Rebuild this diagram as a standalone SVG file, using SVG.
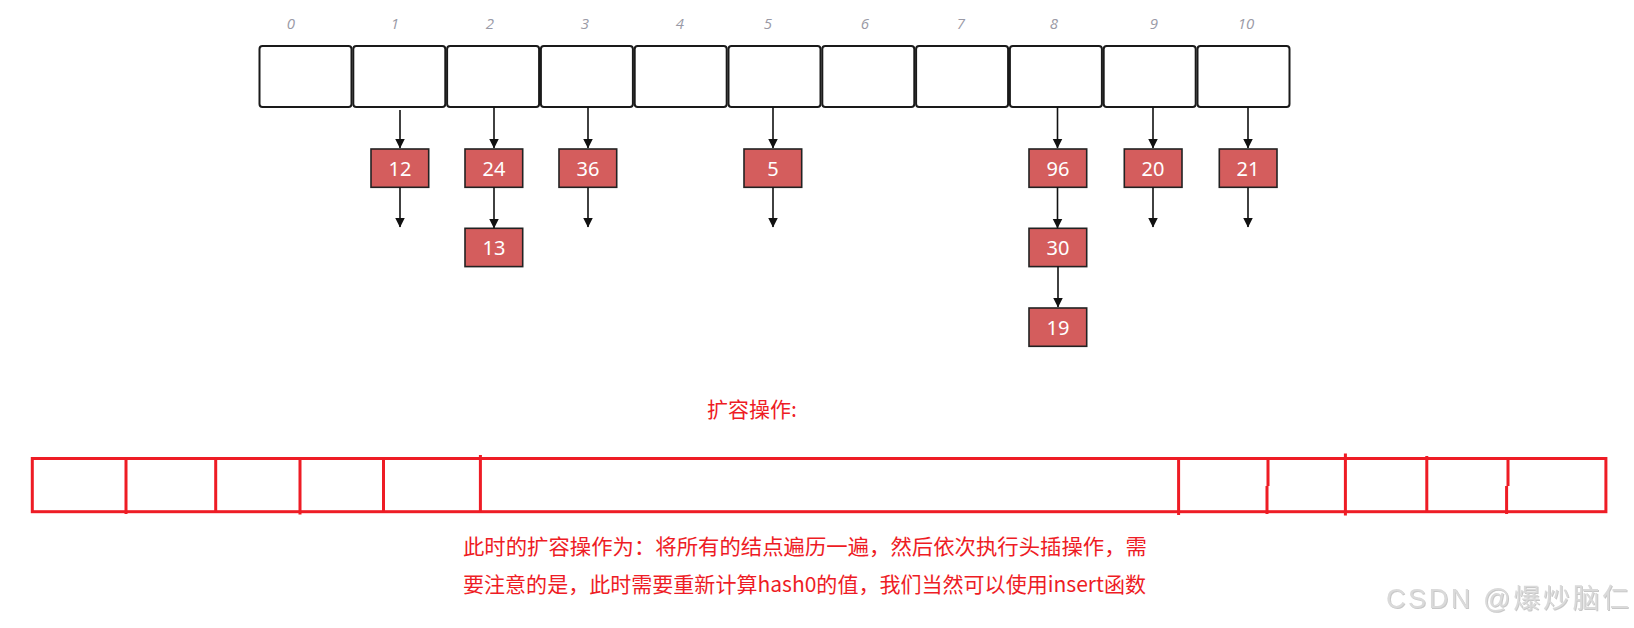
<svg xmlns="http://www.w3.org/2000/svg" width="1634" height="628" viewBox="0 0 1634 628">
<style>
.slot{fill:#fff;stroke:#1a1a1a;stroke-width:2}
.idx{font-family:"Open Sans","Noto Sans",sans-serif;font-style:italic;font-size:15px;fill:#9a9aa6;text-anchor:middle}
.node rect{fill:#d45d5d;stroke:#222;stroke-width:1.6}
.node text{font-family:"Noto Sans","Open Sans",sans-serif;font-size:20px;fill:#fff;text-anchor:middle}
.conn line{stroke:#111;stroke-width:1.6;marker-end:url(#ah)}
.red{stroke:#ee1c25;stroke-width:3;fill:none}
.rt{font-family:"Noto Sans CJK SC","Noto Sans",sans-serif;fill:#ee1c25}
</style>
<defs>
<marker id="ah" markerUnits="userSpaceOnUse" markerWidth="11" markerHeight="11" refX="9.5" refY="5" orient="auto">
<path d="M0,0 L10,5 L0,10 Z" fill="#111"/>
</marker>
<filter id="emb" x="-5%" y="-20%" width="110%" height="140%">
<feDropShadow dx="1" dy="1" stdDeviation="0.6" flood-color="#b0b0b0" flood-opacity="0.7"/>
</filter>
</defs>
<g id="array">
<g id="slot0"><rect class="slot" x="259.5" y="46" width="92" height="61" rx="3"/><text class="idx" x="291" y="29">0</text></g>
<g id="slot1"><rect class="slot" x="353.3" y="46" width="92" height="61" rx="3"/><text class="idx" x="395" y="29">1</text></g>
<g id="slot2"><rect class="slot" x="447.1" y="46" width="92" height="61" rx="3"/><text class="idx" x="490" y="29">2</text></g>
<g id="slot3"><rect class="slot" x="540.9" y="46" width="92" height="61" rx="3"/><text class="idx" x="585" y="29">3</text></g>
<g id="slot4"><rect class="slot" x="634.7" y="46" width="92" height="61" rx="3"/><text class="idx" x="680" y="29">4</text></g>
<g id="slot5"><rect class="slot" x="728.5" y="46" width="92" height="61" rx="3"/><text class="idx" x="768" y="29">5</text></g>
<g id="slot6"><rect class="slot" x="822.3" y="46" width="92" height="61" rx="3"/><text class="idx" x="865" y="29">6</text></g>
<g id="slot7"><rect class="slot" x="916.1" y="46" width="92" height="61" rx="3"/><text class="idx" x="961" y="29">7</text></g>
<g id="slot8"><rect class="slot" x="1009.9" y="46" width="92" height="61" rx="3"/><text class="idx" x="1054" y="29">8</text></g>
<g id="slot9"><rect class="slot" x="1103.7" y="46" width="92" height="61" rx="3"/><text class="idx" x="1154" y="29">9</text></g>
<g id="slot10"><rect class="slot" x="1197.5" y="46" width="92" height="61" rx="3"/><text class="idx" x="1246" y="29">10</text></g>
</g>
<g id="n12" class="node"><rect x="371" y="149" width="57.7" height="38.3"/><text x="400" y="175.5">12</text></g>
<g id="n24" class="node"><rect x="465" y="149" width="57.7" height="38.3"/><text x="494" y="175.5">24</text></g>
<g id="n13" class="node"><rect x="465" y="228.3" width="57.7" height="38.3"/><text x="494" y="254.5">13</text></g>
<g id="n36" class="node"><rect x="559" y="149" width="57.7" height="38.3"/><text x="588" y="175.5">36</text></g>
<g id="n5" class="node"><rect x="744" y="149" width="57.7" height="38.3"/><text x="773" y="175.5">5</text></g>
<g id="n96" class="node"><rect x="1029" y="149" width="57.7" height="38.3"/><text x="1058" y="175.5">96</text></g>
<g id="n30" class="node"><rect x="1029" y="228.3" width="57.7" height="38.3"/><text x="1058" y="254.5">30</text></g>
<g id="n19" class="node"><rect x="1029" y="308" width="57.7" height="38.3"/><text x="1058" y="334.5">19</text></g>
<g id="n20" class="node"><rect x="1124.3" y="149" width="57.7" height="38.3"/><text x="1153" y="175.5">20</text></g>
<g id="n21" class="node"><rect x="1219.3" y="149" width="57.7" height="38.3"/><text x="1248" y="175.5">21</text></g>
<g id="connectors" class="conn">
<line x1="400" y1="110" x2="400" y2="148"/>
<line x1="400" y1="187.3" x2="400" y2="227"/>
<line x1="494" y1="107" x2="494" y2="148"/>
<line x1="494" y1="187.3" x2="494" y2="228"/>
<line x1="588" y1="107" x2="588" y2="148"/>
<line x1="588" y1="187.3" x2="588" y2="227"/>
<line x1="773" y1="107" x2="773" y2="148"/>
<line x1="773" y1="187.3" x2="773" y2="227"/>
<line x1="1057.5" y1="107" x2="1057.5" y2="148"/>
<line x1="1057.5" y1="187.3" x2="1057.5" y2="228"/>
<line x1="1058" y1="266.6" x2="1058" y2="307"/>
<line x1="1153" y1="107" x2="1153" y2="148"/>
<line x1="1153" y1="187.3" x2="1153" y2="227"/>
<line x1="1248" y1="107" x2="1248" y2="148"/>
<line x1="1248" y1="187.3" x2="1248" y2="227"/>
</g>
<text class="rt" x="707" y="416.5" font-size="21">扩容操作:</text>
<g id="newarray">
<rect class="red" x="32.3" y="458.5" width="1573.6" height="53.2"/>
<path class="red" d="M126,458.5V514 M215.7,458.5V511.7 M300,458.5V514.5 M383.5,458.5V511.7 M480.4,455V511.7 M1178.6,458.5V515 M1268,458.5V486 M1267,486V514 M1345.4,453.5V515.5 M1426.8,456V511.7 M1508,458.5V486 M1506.6,486V514"/>
</g>
<text class="rt" x="463" y="554" font-size="21" textLength="684" lengthAdjust="spacingAndGlyphs">此时的扩容操作为：将所有的结点遍历一遍，然后依次执行头插操作，需</text>
<text class="rt" x="463" y="591.5" font-size="21" textLength="683" lengthAdjust="spacingAndGlyphs">要注意的是，此时需要重新计算hash0的值，我们当然可以使用insert函数</text>
<text x="1386" y="608" font-family="'Liberation Sans','Noto Sans CJK SC',sans-serif" font-size="27" fill="#dadada" filter="url(#emb)" textLength="243" lengthAdjust="spacing">CSDN @爆炒脑仁</text>
</svg>
